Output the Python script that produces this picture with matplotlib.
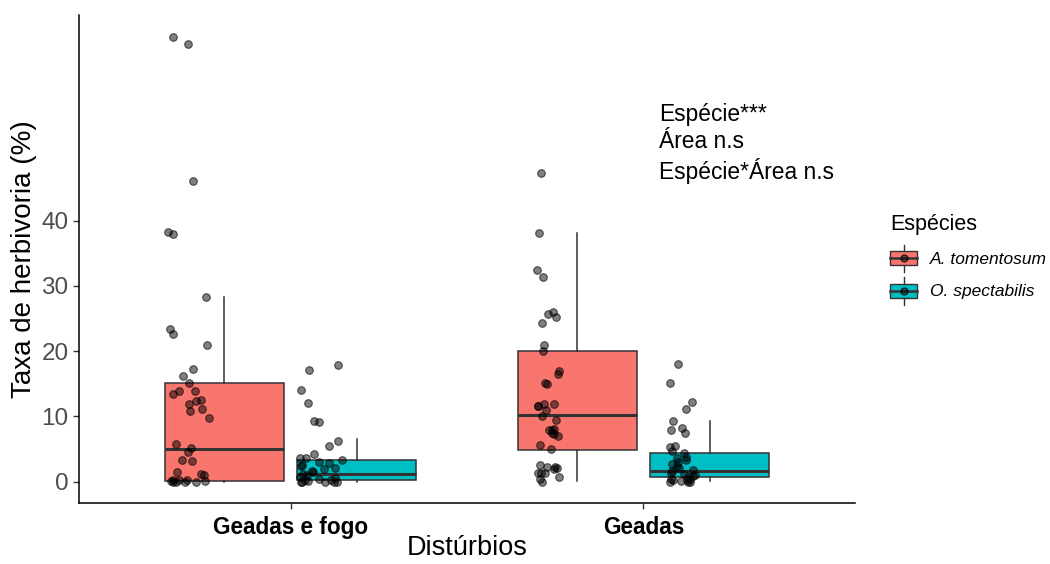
import numpy as np
import matplotlib
matplotlib.use("Agg")
import matplotlib.pyplot as plt
from matplotlib.patches import Rectangle
from matplotlib.lines import Line2D
from matplotlib.legend_handler import HandlerBase

plt.rcParams["font.family"] = ["Liberation Sans", "DejaVu Sans"]

# disturbance areas on the x axis
disturbios = ["Geadas e fogo", "Geadas"]
especies = ["A. tomentosum", "O. spectabilis"]
cores = ["#F8766D", "#00BFC4"]

# herbivory rate (%) per leaf, one list per area x species
geada_fogo_atom = [68.2, 67.1, 46.1, 38.3, 37.9, 28.35, 23.4, 22.6, 20.9, 17.2,
                   16.2, 15.2, 13.9, 13.9, 13.4, 12.5, 12.3, 11.9, 11.2, 10.8,
                   9.7, 5.8, 5.1, 4.6, 3.3, 3.2, 1.5, 1.2, 1.0, 0.3,
                   0.25, 0.2, 0.1, 0.1, 0.0, 0.0, 0.0, 0.0]
geada_fogo_ospe = [17.9, 17.1, 14.05, 12.1, 9.3, 9.2, 6.2, 5.5, 4.25, 3.7,
                   3.6, 3.3, 3.1, 2.9, 2.6, 2.4, 2.1, 1.9, 1.7, 1.5,
                   1.2, 1.0, 0.8, 0.6, 0.5, 0.3, 0.2, 0.1, 0.0, 0.0,
                   0.0, 0.0, 0.0]
geada_atom = [47.3, 38.1, 32.4, 31.4, 26.0, 25.7, 25.2, 24.3, 20.95, 20.0,
              17.0, 16.5, 15.2, 14.9, 11.9, 11.9, 11.6, 11.6, 11.0, 10.1,
              9.5, 8.1, 7.9, 7.9, 7.5, 7.3, 7.0, 5.7, 4.97, 2.55,
              2.3, 2.3, 2.15, 1.9, 1.4, 1.3, 1.3, 0.75, 0.5, 0.0]
geada_ospe = [18.0, 15.2, 12.2, 11.2, 9.3, 8.2, 7.9, 7.4, 5.5, 5.3,
              4.75, 4.35, 3.8, 3.6, 3.3, 3.0, 2.7, 2.4, 2.1, 1.8,
              1.6, 1.4, 1.2, 1.0, 0.9, 0.7, 0.5, 0.4, 0.3, 0.2,
              0.1, 0.0, 0.0, 0.0]

# boxplot summaries (whisker low, Q1, median, Q3, whisker high)
wlo = [0.0, 0.0, 0.1, 0.15]
q1 = [0.15, 0.26, 4.8, 0.67]
mediana = [4.97, 1.23, 10.2, 1.64]
q3 = [15.2, 3.33, 19.98, 4.35]
whi = [28.35, 6.5, 38.07, 9.3]

grupos = [geada_fogo_atom, geada_fogo_ospe, geada_atom, geada_ospe]
cat_pos = np.array([1, 2])
dodge = 0.1875
box_pos = [1 - dodge, 1 + dodge, 2 - dodge, 2 + dodge]
box_cor = [cores[0], cores[1], cores[0], cores[1]]
# jitter centre / half-width for the points of each box
jit_centro = [1 - 0.29, 1 + 0.085, 2 - 0.27, 2 + 0.11]
jit_larg = [0.06, 0.06, 0.032, 0.038]

fig = plt.figure(figsize=(10.5, 5.64), dpi=100)
ax = fig.add_axes([0.0752, 0.1076, 0.7391, 0.8658])

stats = []
for i in range(4):
    stats.append(dict(whislo=wlo[i], q1=q1[i], med=mediana[i], q3=q3[i],
                      whishi=whi[i], fliers=[]))
bp = ax.bxp(stats, positions=box_pos, widths=0.3375, patch_artist=True,
            showfliers=False, showcaps=False,
            boxprops=dict(edgecolor="#333333", linewidth=1.1),
            whiskerprops=dict(color="#333333", linewidth=1.1),
            medianprops=dict(color="#333333", linewidth=2.2))
for caixa, c in zip(bp["boxes"], box_cor):
    caixa.set_facecolor(c)
    caixa.set_zorder(2)

rng = np.random.default_rng(11)
for i, vals in enumerate(grupos):
    xs = jit_centro[i] + rng.uniform(-jit_larg[i], jit_larg[i], len(vals))
    ax.scatter(xs, vals, s=30, facecolor=(0, 0, 0, 0.5),
               edgecolor=(0, 0, 0, 0.6), linewidth=0.8, zorder=3)

ax.set_xlim(0.4, 2.6)
ax.set_ylim(-3.3, 71.5)
ax.set_yticks([0, 10, 20, 30, 40])
ax.set_xticks(cat_pos)
ax.set_xticklabels(disturbios, fontweight="bold", fontsize=16.3, color="black")
ax.tick_params(axis="y", labelsize=17.5, labelcolor="#4D4D4D")
ax.tick_params(axis="x", pad=5)
ax.tick_params(length=4, width=1, color="#333333")
for lado in ["top", "right"]:
    ax.spines[lado].set_visible(False)
for lado in ["left", "bottom"]:
    ax.spines[lado].set_linewidth(1.1)

ax.set_xlabel("Distúrbios", fontsize=19.5, labelpad=-3)
ax.set_ylabel("Taxa de herbivoria (%)", fontsize=20, labelpad=3)

ax.text(2.044, 58.0, "Espécie***\nÁrea n.s\nEspécie*Área n.s",
        fontsize=16.4, va="top", ha="left", linespacing=1.22)


class HandlerCaixa(HandlerBase):
    def create_artists(self, legend, orig_handle, xdescent, ydescent,
                       width, height, fontsize, trans):
        x0, y0 = -xdescent, -ydescent
        cx, cy = x0 + width / 2, y0 + height / 2
        bh = height * 0.45
        arts = [
            Line2D([cx, cx], [y0 + 0.05 * height, y0 + 0.95 * height],
                   color="#333333", linewidth=1.0, transform=trans),
            Rectangle((x0, cy - bh / 2), width, bh,
                      facecolor=orig_handle, edgecolor="#333333",
                      linewidth=1.0, transform=trans),
            Line2D([x0, x0 + width], [cy, cy], color="#333333",
                   linewidth=1.8, transform=trans),
            Line2D([cx], [cy], marker="o", markersize=5, linestyle="none",
                   markerfacecolor=(0, 0, 0, 0.5), markeredgecolor=(0, 0, 0, 0.7),
                   transform=trans),
        ]
        return arts


leg = fig.legend(cores, especies, handler_map={str: HandlerCaixa()},
                 loc="upper left", bbox_to_anchor=(0.8394, 0.6365),
                 frameon=False, title="Espécies", title_fontsize=15.5,
                 prop=dict(size=12.5, style="italic"),
                 handlelength=1.55, handleheight=2.35, labelspacing=0.1,
                 handletextpad=0.73, borderpad=0)
leg._legend_box.align = "left"
leg._legend_box.sep = 6

fig.savefig("out.png", dpi=100)
